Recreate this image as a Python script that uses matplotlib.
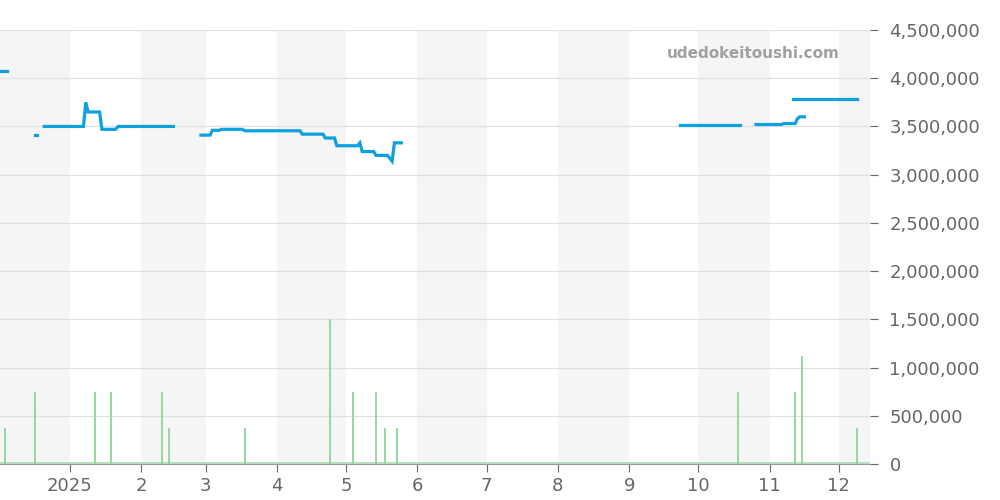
import numpy as np
import matplotlib.pyplot as plt
import matplotlib.dates as mdates
import matplotlib.ticker as mticker
import pandas as pd

# price line, one list per run (NaN-free segments)
price_segments = [
    (["2024-12-01", "2024-12-05"], [4070000, 4070000]),
    (["2024-12-17", "2024-12-18"], [3410000, 3410000]),
    (["2024-12-21", "2025-01-07", "2025-01-08", "2025-01-09", "2025-01-14",
      "2025-01-15", "2025-01-21", "2025-01-22", "2025-02-15"],
     [3500000, 3500000, 3750000, 3650000, 3650000,
      3470000, 3470000, 3500000, 3500000]),
    (["2025-02-27", "2025-03-03", "2025-03-04", "2025-03-07", "2025-03-08",
      "2025-03-17", "2025-03-18", "2025-04-11", "2025-04-12", "2025-04-21",
      "2025-04-22", "2025-04-26", "2025-04-27", "2025-05-06", "2025-05-07",
      "2025-05-08", "2025-05-13", "2025-05-14", "2025-05-19", "2025-05-20",
      "2025-05-21", "2025-05-22", "2025-05-25"],
     [3410000, 3410000, 3460000, 3460000, 3470000,
      3470000, 3455000, 3455000, 3420000, 3420000,
      3380000, 3380000, 3300000, 3300000, 3330000,
      3240000, 3240000, 3200000, 3200000, 3170000,
      3140000, 3330000, 3330000]),
    (["2025-09-23", "2025-10-19"], [3520000, 3520000]),
    (["2025-10-26", "2025-11-06", "2025-11-07", "2025-11-12", "2025-11-13",
      "2025-11-14", "2025-11-16"],
     [3520000, 3520000, 3530000, 3530000, 3580000, 3600000, 3600000]),
    (["2025-11-11", "2025-12-09"], [3780000, 3780000]),
]

volume_dates = ["2024-12-04", "2024-12-17", "2025-01-12", "2025-01-19",
                "2025-02-10", "2025-02-13", "2025-03-18", "2025-04-24",
                "2025-05-04", "2025-05-14", "2025-05-18", "2025-05-23",
                "2025-10-18", "2025-11-12", "2025-11-15", "2025-12-09"]
volume_values = [375000, 750000, 750000, 750000, 750000, 375000, 375000,
                 1500000, 750000, 750000, 375000, 375000, 750000, 750000,
                 1125000, 375000]

fig = plt.figure(figsize=(10, 5), dpi=100)
ax = fig.add_axes([0.0, 0.072, 0.87, 0.868])

x_start = pd.Timestamp("2024-12-01 18:00")
x_end = pd.Timestamp("2025-12-14 12:00")

# alternate month shading
m = pd.Timestamp("2024-11-01")
shade = False
while m < x_end:
    nxt = m + pd.DateOffset(months=1)
    if shade:
        ax.axvspan(m, nxt, color="#f5f5f5", zorder=0, lw=0)
    shade = not shade
    m = nxt

# tiny baseline volume
ax.plot([x_start, x_end], [8000, 8000], color="#a8dcb2", lw=1.2, zorder=1)
vd = pd.to_datetime(volume_dates)
ax.vlines(vd, 0, volume_values, color="#8fd49c", lw=1.3, zorder=2)

for dates, vals in price_segments:
    ax.plot(pd.to_datetime(dates), vals, color="#0ea0e0", lw=2.3,
            solid_joinstyle="miter", zorder=3)

ax.set_xlim(x_start, x_end)
ax.set_ylim(0, 4500000)
ax.yaxis.tick_right()
ax.yaxis.set_major_locator(mticker.MultipleLocator(500000))
ax.yaxis.set_major_formatter(mticker.FuncFormatter(lambda v, p: f"{int(v):,}"))
ax.grid(axis="y", color="#e0e0e0", lw=0.9)
ax.set_axisbelow(True)

ticks = pd.date_range("2025-01-01", "2025-12-01", freq="MS")
ax.set_xticks(ticks)
ax.set_xticklabels(["2025"] + [str(t.month) for t in ticks[1:]])
ax.tick_params(axis="both", colors="#666666", labelsize=13, length=6)
ax.tick_params(axis="y", pad=8)

for s in ["top", "left", "right"]:
    ax.spines[s].set_visible(False)
ax.spines["bottom"].set_color("#999999")

ax.text(0.965, 0.945, "udedokeitoushi.com", transform=ax.transAxes,
        ha="right", va="center", fontsize=11, fontweight="bold", color="#a0a0a0")

fig.savefig("out.png")
